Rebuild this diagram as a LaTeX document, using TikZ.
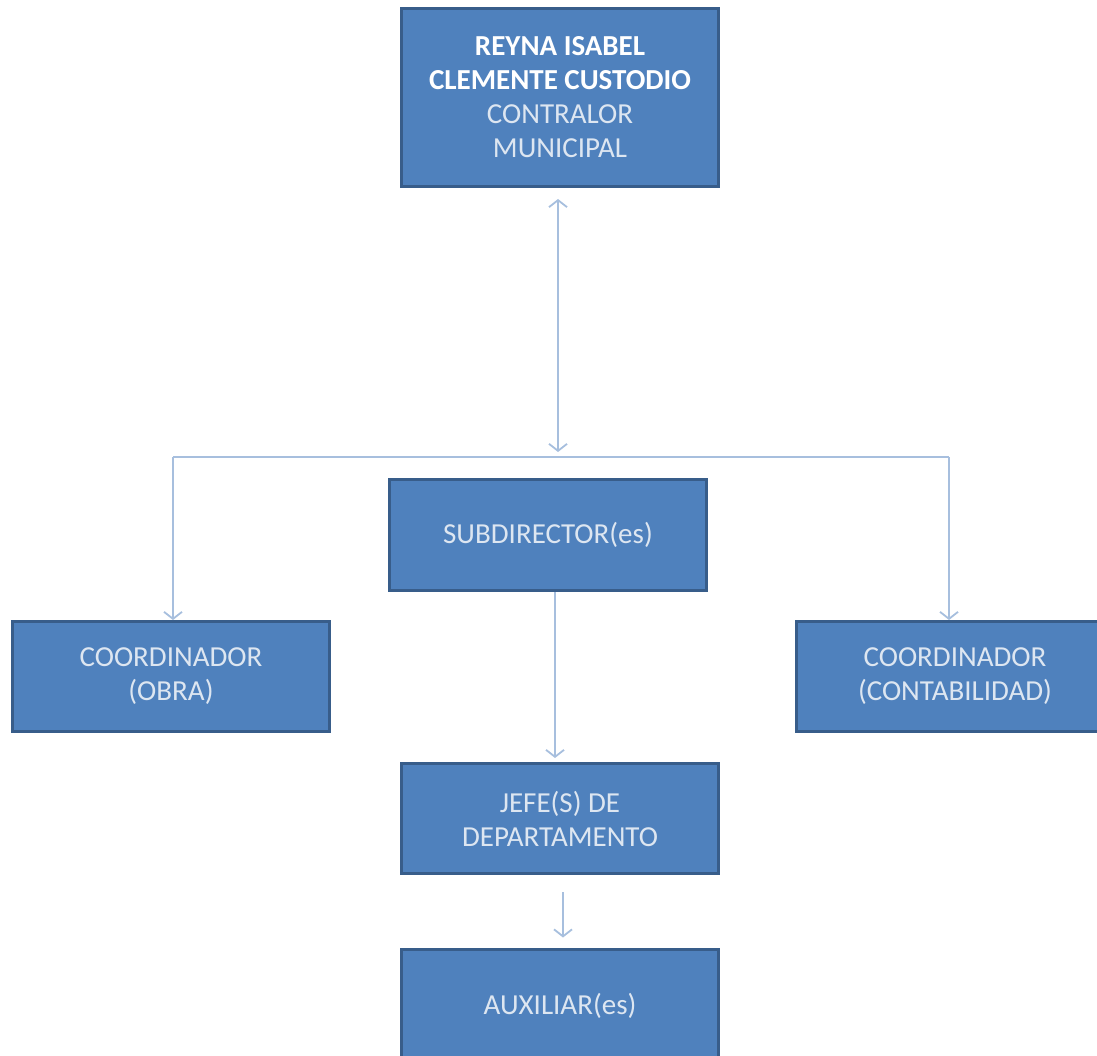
\documentclass[tikz,border=0pt]{standalone}
\usepackage{fontspec}
\setmainfont{Carlito}
\usetikzlibrary{arrows.meta}
\definecolor{boxfill}{HTML}{4F81BD}
\definecolor{boxline}{HTML}{385D8A}
\definecolor{linkcol}{HTML}{A7BFDE}
\definecolor{txtcol}{HTML}{DDE6F1}
\tikzset{
  orgbox/.style={draw=boxline, fill=boxfill, line width=3pt, rectangle,
    minimum width=317pt, align=center, text=txtcol, inner sep=0pt,
    font=\fontsize{29}{34}\selectfont},
  link/.style={draw=linkcol, line width=2.8pt},
  tipv/.style={-{Straight Barb[length=7pt,width=18pt,line width=1.8pt]}},
  tipvv/.style={{Straight Barb[length=7pt,width=18pt,line width=1.8pt]}-{Straight Barb[length=7pt,width=18pt,line width=1.8pt]}}
}
\begin{document}
\begin{tikzpicture}[x=1pt,y=-1pt]
\useasboundingbox (0,0) rectangle (1097,1056);
\clip (0,0) rectangle (1097,1056);
\node[orgbox, minimum height=178pt] (top) at (560,97.5)
  {\textcolor{white}{\bfseries REYNA ISABEL}\\ \textcolor{white}{\bfseries CLEMENTE CUSTODIO}\\ CONTRALOR\\ MUNICIPAL};
\node[orgbox, minimum height=111pt] (sub) at (548,535) {SUBDIRECTOR(es)};
\node[orgbox, minimum height=110pt] (cl) at (171,676.5) {COORDINADOR\\ (OBRA)};
\node[orgbox, minimum height=110pt] (cr) at (955,676.5) {COORDINADOR\\ (CONTABILIDAD)};
\node[orgbox, minimum height=110pt] (jefe) at (560,818.5) {JEFE(S) DE\\ DEPARTAMENTO};
\node[orgbox, minimum height=114pt] (aux) at (560,1006) {AUXILIAR(es)};
\coordinate (ta) at (558,199);
\coordinate (tb) at (558,452);
\coordinate (hl) at (173,457);
\coordinate (hr) at (949,457);
\draw[link,tipvv] (ta) -- (tb);
\draw[link] (hl) -- (hr);
\draw[link,tipv] (hl) -- (hl |- cl.north);
\draw[link,tipv] (hr) -- (hr |- cr.north);
\draw[link,tipv,shorten >=4pt] ([xshift=7pt]sub.south) -- ([xshift=7pt]sub.south |- jefe.north);
\draw[link,tipv,shorten >=10pt] ([xshift=3pt,yshift=-17pt]jefe.south) -- ([xshift=3pt]jefe.south |- aux.north);
\end{tikzpicture}
\end{document}
